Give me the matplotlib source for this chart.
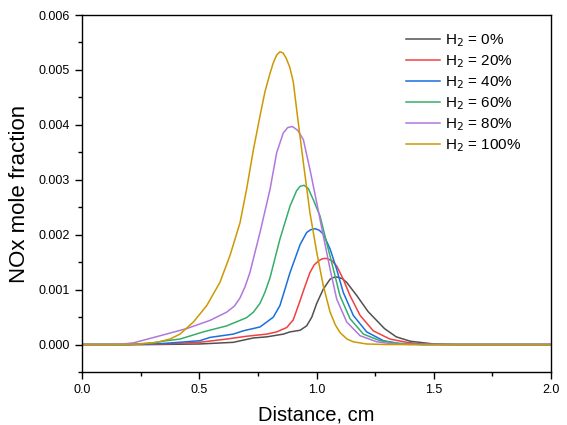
import matplotlib
matplotlib.use("Agg")
import matplotlib.pyplot as plt
from matplotlib.ticker import MultipleLocator, FormatStrFormatter

plt.rcParams['font.family'] = ['Liberation Sans', 'DejaVu Sans']

labels = [r'H$_2$ = 0%', r'H$_2$ = 20%', r'H$_2$ = 40%',
          r'H$_2$ = 60%', r'H$_2$ = 80%', r'H$_2$ = 100%']
colors = ['#515151', '#F14040', '#1A6FDF', '#37AD6B', '#B177DE', '#CC9900']

# values (distance in cm, NOx mole fraction)
x_h0 = [0.0, 0.3, 0.5, 0.645, 0.731, 0.788, 0.859, 0.887, 0.93, 0.958, 0.98, 1.001, 1.029,
        1.058, 1.072, 1.087, 1.11, 1.129, 1.172, 1.22, 1.29, 1.34, 1.40, 1.5, 1.6, 2.0]
y_h0 = [0.0, 0.0, 0.00001, 0.00004, 0.00012, 0.00014, 0.00019, 0.00023, 0.00026, 0.00034,
        0.0005, 0.00075, 0.00101, 0.00119, 0.00122, 0.00123, 0.0012, 0.00113, 0.00089, 0.0006,
        0.00029, 0.00014, 0.00006, 0.00001, 0.0, 0.0]

x_h20 = [0.0, 0.25, 0.4, 0.5, 0.617, 0.7, 0.788, 0.83, 0.873, 0.901, 0.93, 0.95, 0.972,
         0.99, 1.008, 1.024, 1.04, 1.065, 1.086, 1.114, 1.143, 1.186, 1.242, 1.313, 1.385,
         1.45, 1.55, 2.0]
y_h20 = [0.0, 0.0, 0.00002, 0.00004, 0.0001, 0.00015, 0.00019, 0.00023, 0.00031, 0.00045,
         0.0008, 0.00105, 0.00131, 0.00145, 0.00152, 0.00156, 0.00157, 0.00153, 0.00143,
         0.00119, 0.00089, 0.00053, 0.00025, 0.0001, 0.00004, 0.00001, 0.0, 0.0]

x_h40 = [0.0, 0.2, 0.35, 0.503, 0.546, 0.645, 0.688, 0.759, 0.788, 0.816, 0.844, 0.865,
         0.887, 0.93, 0.958, 0.975, 0.994, 1.012, 1.029, 1.058, 1.086, 1.114, 1.157, 1.214,
         1.285, 1.35, 1.45, 2.0]
y_h40 = [0.0, 0.0, 0.00002, 0.00007, 0.00013, 0.00019, 0.00025, 0.00032, 0.00041, 0.0005,
         0.00071, 0.001, 0.00131, 0.00182, 0.00204, 0.00209, 0.00211, 0.00208, 0.00201,
         0.00174, 0.00137, 0.00095, 0.00053, 0.00023, 0.00007, 0.00002, 0.0, 0.0]

x_h60 = [0.0, 0.2, 0.3, 0.361, 0.418, 0.517, 0.617, 0.674, 0.702, 0.731, 0.759, 0.78,
         0.802, 0.844, 0.887, 0.915, 0.93, 0.947, 0.965, 0.986, 1.015, 1.043, 1.072, 1.1,
         1.143, 1.2, 1.271, 1.35, 1.45, 2.0]
y_h60 = [0.0, 0.0, 0.00003, 0.00007, 0.0001, 0.00023, 0.00034, 0.00044, 0.00049, 0.00059,
         0.00075, 0.00095, 0.00122, 0.00192, 0.00252, 0.0028, 0.00288, 0.0029, 0.00284,
         0.00264, 0.00234, 0.00186, 0.00137, 0.00089, 0.00047, 0.00019, 0.00007, 0.00002,
         0.0, 0.0]

x_h80 = [0.0, 0.15, 0.219, 0.333, 0.446, 0.546, 0.617, 0.65, 0.674, 0.695, 0.716, 0.759,
         0.802, 0.83, 0.858, 0.877, 0.897, 0.92, 0.944, 0.972, 1.001, 1.029, 1.058, 1.086,
         1.129, 1.186, 1.257, 1.33, 1.4, 2.0]
y_h80 = [0.0, 0.0, 0.00003, 0.00016, 0.00029, 0.00044, 0.00059, 0.0007, 0.00085, 0.00105,
         0.00131, 0.00204, 0.00283, 0.00349, 0.00385, 0.00395, 0.00397, 0.0039, 0.00373,
         0.00319, 0.00258, 0.00198, 0.00137, 0.00083, 0.00041, 0.00016, 0.00005, 0.00001,
         0.0, 0.0]

x_h100 = [0.0, 0.15, 0.25, 0.32, 0.375, 0.418, 0.475, 0.532, 0.588, 0.631, 0.674, 0.702,
          0.731, 0.759, 0.78, 0.802, 0.815, 0.83, 0.844, 0.857, 0.87, 0.886, 0.901, 0.922,
          0.944, 0.972, 1.001, 1.029, 1.058, 1.08, 1.1, 1.13, 1.157, 1.214, 1.3, 2.0]
y_h100 = [0.0, 0.0, 0.00001, 0.00004, 0.0001, 0.00019, 0.00041, 0.00071, 0.00113, 0.00162,
          0.00222, 0.00283, 0.00355, 0.00416, 0.0046, 0.00494, 0.00512, 0.00527, 0.00533,
          0.00531, 0.00522, 0.00505, 0.00478, 0.00405, 0.00331, 0.0024, 0.00168, 0.00107,
          0.00059, 0.00036, 0.00022, 0.0001, 0.00005, 0.00001, 0.0, 0.0]

xs = [x_h0, x_h20, x_h40, x_h60, x_h80, x_h100]
ys = [y_h0, y_h20, y_h40, y_h60, y_h80, y_h100]

fig = plt.figure(figsize=(5.67, 4.25), dpi=100)
ax = fig.add_axes([82 / 567, 1 - 372 / 425, 469 / 567, 357 / 425])

for x, y, c, lab in zip(xs, ys, colors, labels):
    ax.plot(x, y, color=c, lw=1.1, label=lab, solid_joinstyle='round')

ax.set_xlim(0, 2.0)
ax.set_ylim(-0.0005, 0.006)
ax.xaxis.set_major_locator(MultipleLocator(0.5))
ax.xaxis.set_minor_locator(MultipleLocator(0.25))
ax.yaxis.set_major_locator(MultipleLocator(0.001))
ax.yaxis.set_minor_locator(MultipleLocator(0.0005))
ax.xaxis.set_major_formatter(FormatStrFormatter('%.1f'))
ax.yaxis.set_major_formatter(FormatStrFormatter('%.3f'))
ax.tick_params(which='major', direction='out', length=5, width=1, labelsize=9)
ax.tick_params(which='minor', direction='out', length=3, width=1)
for s in ax.spines.values():
    s.set_linewidth(1)

ax.set_xlabel('Distance, cm', fontsize=14.5, labelpad=7)
ax.set_ylabel('NOx mole fraction', fontsize=16, labelpad=6)

ax.legend(loc='upper right', bbox_to_anchor=(0.965, 0.99), frameon=False,
          fontsize=11, handlelength=2.2, handletextpad=0.3, labelspacing=0.28)

fig.savefig('out.png', dpi=100)
